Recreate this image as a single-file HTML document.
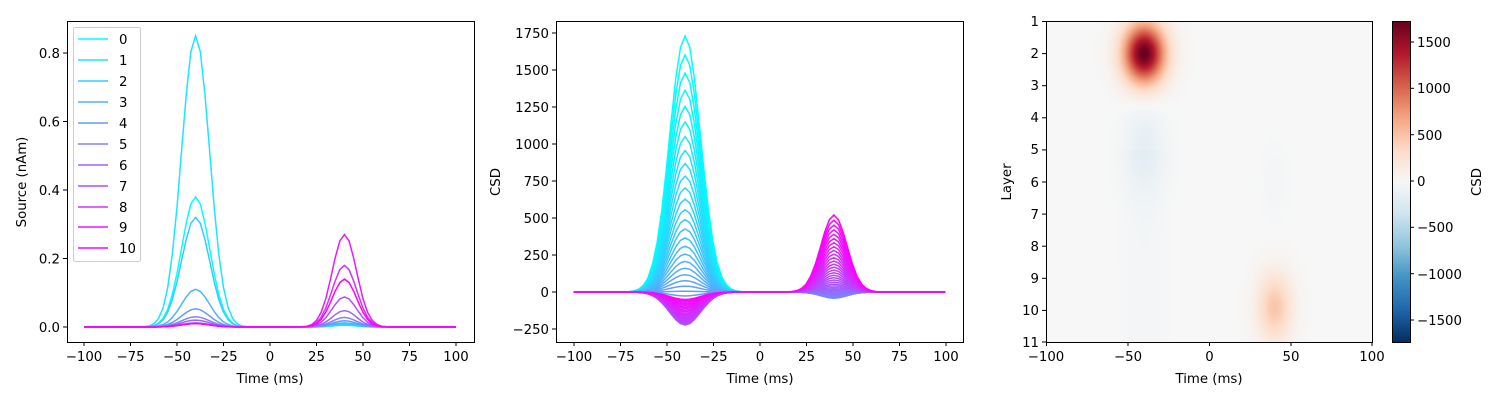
<!DOCTYPE html>
<html><head><meta charset="utf-8">
<style>
html,body{margin:0;padding:0;background:#fff;}
svg{display:block;font-family:"DejaVu Sans","Liberation Sans",sans-serif;font-size:13.3px;}
</style></head>
<body>
<svg id="s" width="1500" height="400" xmlns="http://www.w3.org/2000/svg">
<rect width="1500" height="400" fill="#fff"/>
<defs><clipPath id="c2"><rect x="556" y="21" width="408" height="321"/></clipPath></defs>
<g id="p1"></g>
<g id="p2" clip-path="url(#c2)"></g>
<foreignObject x="1046" y="21" width="326" height="321"><canvas id="hm" width="326" height="321" xmlns="http://www.w3.org/1999/xhtml" style="display:block"></canvas></foreignObject>
<foreignObject x="1392" y="21" width="18" height="321"><canvas id="cb" width="18" height="321" xmlns="http://www.w3.org/1999/xhtml" style="display:block"></canvas></foreignObject>

<rect x="67.5" y="21.5" width="407" height="321" fill="none" stroke="#000" stroke-width="1"/>
<g stroke="#000" stroke-width="1">
<line x1="84" y1="342" x2="84" y2="346"/><line x1="130.5" y1="342" x2="130.5" y2="346"/><line x1="177" y1="342" x2="177" y2="346"/><line x1="223.5" y1="342" x2="223.5" y2="346"/><line x1="270" y1="342" x2="270" y2="346"/><line x1="316.5" y1="342" x2="316.5" y2="346"/><line x1="363" y1="342" x2="363" y2="346"/><line x1="409.5" y1="342" x2="409.5" y2="346"/><line x1="456" y1="342" x2="456" y2="346"/>
<line x1="63" y1="327" x2="67" y2="327"/><line x1="63" y1="258.5" x2="67" y2="258.5"/><line x1="63" y1="190" x2="67" y2="190"/><line x1="63" y1="121.5" x2="67" y2="121.5"/><line x1="63" y1="53" x2="67" y2="53"/>
</g>
<g text-anchor="middle">
<text x="84" y="361">−100</text><text x="130.5" y="361">−75</text><text x="177" y="361">−50</text><text x="223.5" y="361">−25</text><text x="270" y="361">0</text><text x="316.5" y="361">25</text><text x="363" y="361">50</text><text x="409.5" y="361">75</text><text x="456" y="361">100</text>
<text x="270" y="383">Time (ms)</text>
</g>
<g text-anchor="end">
<text x="60" y="332">0.0</text><text x="60" y="263.5">0.2</text><text x="60" y="195">0.4</text><text x="60" y="126.5">0.6</text><text x="60" y="58">0.8</text>
</g>
<text transform="translate(26,182) rotate(-90)" text-anchor="middle">Source (nAm)</text>

<rect x="73.5" y="27.5" width="67" height="234" rx="2" fill="#fff" fill-opacity="0.8" stroke="#ccc"/>
<g id="leg"></g>
<g>
<text x="119" y="44">0</text><text x="119" y="65">1</text><text x="119" y="86">2</text><text x="119" y="107">3</text><text x="119" y="128">4</text><text x="119" y="149">5</text><text x="119" y="170">6</text><text x="119" y="191">7</text><text x="119" y="212">8</text><text x="119" y="232">9</text><text x="119" y="253">10</text>
</g>

<rect x="556.5" y="21.5" width="407" height="321" fill="none" stroke="#000"/>
<g stroke="#000">
<line x1="574" y1="342" x2="574" y2="346"/><line x1="620.5" y1="342" x2="620.5" y2="346"/><line x1="667" y1="342" x2="667" y2="346"/><line x1="713.5" y1="342" x2="713.5" y2="346"/><line x1="760" y1="342" x2="760" y2="346"/><line x1="806.5" y1="342" x2="806.5" y2="346"/><line x1="853" y1="342" x2="853" y2="346"/><line x1="899.5" y1="342" x2="899.5" y2="346"/><line x1="946" y1="342" x2="946" y2="346"/>
<line x1="552" y1="329" x2="556" y2="329"/><line x1="552" y1="292" x2="556" y2="292"/><line x1="552" y1="255" x2="556" y2="255"/><line x1="552" y1="218" x2="556" y2="218"/><line x1="552" y1="181" x2="556" y2="181"/><line x1="552" y1="144" x2="556" y2="144"/><line x1="552" y1="107" x2="556" y2="107"/><line x1="552" y1="70" x2="556" y2="70"/><line x1="552" y1="33" x2="556" y2="33"/>
</g>
<g text-anchor="middle">
<text x="574" y="361">−100</text><text x="620.5" y="361">−75</text><text x="667" y="361">−50</text><text x="713.5" y="361">−25</text><text x="760" y="361">0</text><text x="806.5" y="361">25</text><text x="853" y="361">50</text><text x="899.5" y="361">75</text><text x="946" y="361">100</text>
<text x="760" y="383">Time (ms)</text>
</g>
<g text-anchor="end">
<text x="549" y="334">−250</text><text x="549" y="297">0</text><text x="549" y="260">250</text><text x="549" y="223">500</text><text x="549" y="186">750</text><text x="549" y="149">1000</text><text x="549" y="112">1250</text><text x="549" y="75">1500</text><text x="549" y="38">1750</text>
</g>
<text transform="translate(500,182) rotate(-90)" text-anchor="middle">CSD</text>

<rect x="1046.5" y="21.5" width="326" height="321" fill="none" stroke="#000"/>
<g stroke="#000">
<line x1="1046.5" y1="342" x2="1046.5" y2="346"/><line x1="1128" y1="342" x2="1128" y2="346"/><line x1="1209.5" y1="342" x2="1209.5" y2="346"/><line x1="1291" y1="342" x2="1291" y2="346"/><line x1="1372" y1="342" x2="1372" y2="346"/>
<line x1="1042" y1="21.5" x2="1046" y2="21.5"/><line x1="1042" y1="53.6" x2="1046" y2="53.6"/><line x1="1042" y1="85.7" x2="1046" y2="85.7"/><line x1="1042" y1="117.8" x2="1046" y2="117.8"/><line x1="1042" y1="149.9" x2="1046" y2="149.9"/><line x1="1042" y1="182" x2="1046" y2="182"/><line x1="1042" y1="214.1" x2="1046" y2="214.1"/><line x1="1042" y1="246.2" x2="1046" y2="246.2"/><line x1="1042" y1="278.3" x2="1046" y2="278.3"/><line x1="1042" y1="310.4" x2="1046" y2="310.4"/><line x1="1042" y1="342" x2="1046" y2="342"/>
</g>
<g text-anchor="middle">
<text x="1046" y="361">−100</text><text x="1128" y="361">−50</text><text x="1209.5" y="361">0</text><text x="1291" y="361">50</text><text x="1372" y="361">100</text>
<text x="1209" y="383">Time (ms)</text>
</g>
<g text-anchor="end">
<text x="1039" y="26">1</text><text x="1039" y="58">2</text><text x="1039" y="90">3</text><text x="1039" y="122">4</text><text x="1039" y="154">5</text><text x="1039" y="187">6</text><text x="1039" y="219">7</text><text x="1039" y="251">8</text><text x="1039" y="283">9</text><text x="1039" y="315">10</text><text x="1039" y="347">11</text>
</g>
<text transform="translate(1011,182) rotate(-90)" text-anchor="middle">Layer</text>

<rect x="1392.5" y="21.5" width="18" height="321" fill="none" stroke="#000"/>
<g stroke="#000">
<line x1="1410" y1="42" x2="1414" y2="42"/><line x1="1410" y1="88.3" x2="1414" y2="88.3"/><line x1="1410" y1="134.7" x2="1414" y2="134.7"/><line x1="1410" y1="181" x2="1414" y2="181"/><line x1="1410" y1="227.3" x2="1414" y2="227.3"/><line x1="1410" y1="273.7" x2="1414" y2="273.7"/><line x1="1410" y1="320" x2="1414" y2="320"/>
</g>
<g>
<text x="1417" y="47">1500</text><text x="1417" y="93">1000</text><text x="1417" y="140">500</text><text x="1417" y="186">0</text><text x="1417" y="232">−500</text><text x="1417" y="279">−1000</text><text x="1417" y="325">−1500</text>
</g>
<text transform="translate(1481,182) rotate(-90)" text-anchor="middle">CSD</text>
</svg>
<script>
var NS="http://www.w3.org/2000/svg";
function cool(t){return "rgb("+Math.round(255*t)+","+Math.round(255*(1-t))+",255)";}
function g(t,m,s){return Math.exp(-0.5*((t-m)/s)*((t-m)/s));}
function addPath(par,d,c,w){var p=document.createElementNS(NS,"path");p.setAttribute("d",d);p.setAttribute("stroke",c);p.setAttribute("stroke-width",w);p.setAttribute("fill","none");par.appendChild(p);}
var A1=[0.38,0.85,0.32,0.11,0.053,0.03,0.02,0.012,0.01,0.01,0.01];
var A2=[0.005,0.006,0.008,0.012,0.018,0.028,0.048,0.088,0.18,0.27,0.14];
var p1=document.getElementById("p1");
for(var i=0;i<11;i++){var d="";for(var t=-100;t<=100;t+=2.5){var v=A1[i]*g(t,-40,7.5)+A2[i]*g(t,40,6.5);d+=(t==-100?"M":"L")+(270+1.86*t).toFixed(1)+","+(327-342.5*v).toFixed(1);}addPath(p1,d,cool(i/10),1.5);}
var leg=document.getElementById("leg");
for(var i=0;i<11;i++){var y=[39,60,81,102,123,144,165,186,207,227,248][i];addPath(leg,"M78,"+y+"L108,"+y,cool(i/10),1.5);}
var p2=document.getElementById("p2");var N=60;
for(var k=0;k<N;k++){var t0=k/(N-1);
 var s=Math.sin(Math.PI*t0*0.85);
 var a1=1730*Math.pow(1-t0,4.5)-245*s*s;
 var s2=Math.sin(Math.PI*t0);
 var a2=520*Math.pow(t0,4)-60*s2*s2;
 var d="";for(var t=-100;t<=100;t+=2.5){var v=a1*g(t,-40,8.3)+a2*g(t,40,7);d+=(t==-100?"M":"L")+(759.5+1.86*t).toFixed(1)+","+(292-0.148*v).toFixed(1);}
 addPath(p2,d,cool(t0),1.5);}
var stops=[[5,48,97],[33,102,172],[67,147,195],[146,197,222],[209,229,240],[247,247,247],[253,219,199],[244,165,130],[214,96,77],[178,24,43],[103,0,31]];
function rdbu(x){x=Math.max(0,Math.min(1,x))*10;var i=Math.min(9,Math.floor(x)),f=x-i;var a=stops[i],b=stops[i+1];return[a[0]+(b[0]-a[0])*f,a[1]+(b[1]-a[1])*f,a[2]+(b[2]-a[2])*f];}
var VM=1733;
var c=document.getElementById("hm").getContext("2d");var im=c.createImageData(326,321);
for(var y=0;y<321;y++){var L=1+10*y/321;for(var x=0;x<326;x++){var t=-100+200*x/326;
 var v=1730*g(t,-40,9)*g(L,2,0.65)-150*g(t,-40,9)*g(L,4.9,1.0)-40*g(t,-40,9)*(L>5?1:0)+480*g(t,40,7.5)*g(L,9.9,0.75)-40*g(t,40,6)*g(L,6,0.8);
 var col=rdbu(0.5+v/(2*VM));var o=(y*326+x)*4;im.data[o]=col[0];im.data[o+1]=col[1];im.data[o+2]=col[2];im.data[o+3]=255;}}
c.putImageData(im,0,0);
var cb=document.getElementById("cb").getContext("2d");
for(var y=0;y<321;y++){var col=rdbu(1-y/320);cb.fillStyle="rgb("+col.map(Math.round).join(",")+")";cb.fillRect(0,y,18,1);}
</script>
</body></html>
